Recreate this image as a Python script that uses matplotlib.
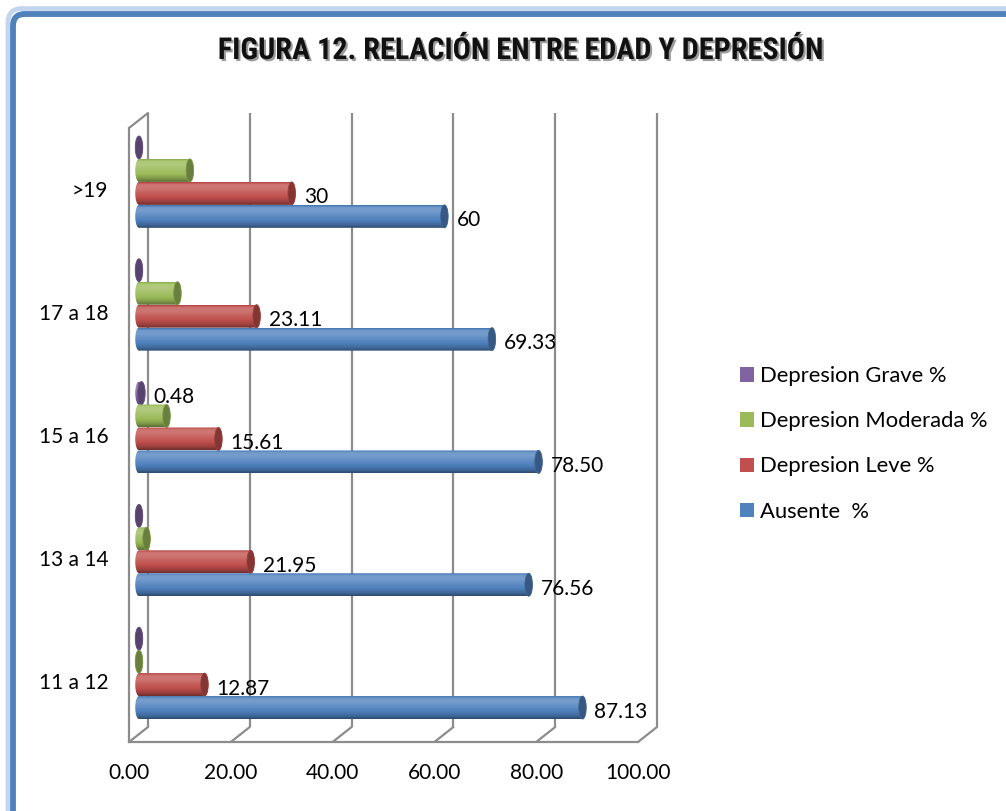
import numpy as np
import matplotlib
matplotlib.use("Agg")
import matplotlib.pyplot as plt
from matplotlib import transforms as mtransforms
from matplotlib import font_manager as fm
from matplotlib.patches import Ellipse, PathPatch, Patch, ConnectionPatch, FancyBboxPatch
from matplotlib.path import Path
from matplotlib.colors import to_rgb
import matplotlib.patheffects as pe

# ---- data -------------------------------------------------------------
categories = ["11 a 12", "13 a 14", "15 a 16", "17 a 18", ">19"]
ausente = [87.13, 76.56, 78.50, 69.33, 60]
leve = [12.87, 21.95, 15.61, 23.11, 30]
moderada = [0.0, 1.49, 5.41, 7.56, 10]
grave = [0.0, 0.0, 0.48, 0.0, 0.0]
series_names = ["Ausente  %", "Depresion Leve %", "Depresion Moderada %", "Depresion Grave %"]
series_colors = ["#4F81BD", "#C0504D", "#9BBB59", "#8064A2"]
series_labelled = [True, True, False, True]
x_ticks = [0, 20, 40, 60, 80, 100]
title = "FIGURA 12. RELACIÓN ENTRE EDAD Y DEPRESIÓN"

plt.rcParams["font.family"] = ["Lato", "DejaVu Sans"]
FS = 15
LEG_FS = 15.8

W, H = 1006, 811
fig = plt.figure(figsize=(W / 100, H / 100), dpi=100)
fig.patch.set_facecolor("white")

# front plane of the pseudo-3D box, in pixels
front_l, front_r, front_t, front_b = 129, 638, 128, 742
ax = fig.add_axes([front_l / W, (H - front_b) / H,
                   (front_r - front_l) / W, (front_b - front_t) / H])
ax.set_xlim(0, 100)
ax.set_ylim(-0.5, 4.5)
ax.set_facecolor("none")
for s in ax.spines.values():
    s.set_visible(False)

# depth planes
mid = mtransforms.offset_copy(ax.transData, fig=fig, x=10, y=7.5, units="dots")
back = mtransforms.offset_copy(ax.transData, fig=fig, x=19, y=15, units="dots")
label_tr = mtransforms.offset_copy(ax.transData, fig=fig, x=22, y=3.5, units="dots")

grid_c = "#8C8C8C"
grid_lw = 1.6
y0, y1 = -0.5, 4.5

# back wall grid
for xt in x_ticks:
    ax.plot([xt, xt], [y0, y1], transform=back, color=grid_c, lw=grid_lw,
            zorder=1, clip_on=False, solid_capstyle="butt")
    ax.add_artist(ConnectionPatch((xt, y0), (xt, y0), coordsA=back, coordsB=ax.transData,
                                  color=grid_c, lw=grid_lw, zorder=1, clip_on=False))
# left wall and floor front edges
ax.plot([0, 0], [y0, y1], color=grid_c, lw=grid_lw, zorder=1, clip_on=False)
ax.plot([0, 100], [y0, y0], color=grid_c, lw=grid_lw, zorder=1, clip_on=False)
ax.add_artist(ConnectionPatch((0, y1), (0, y1), coordsA=ax.transData, coordsB=back,
                              color=grid_c, lw=grid_lw, zorder=1, clip_on=False))


def shade(color, f):
    c = np.array(to_rgb(color))
    if f >= 0:
        return c + (1 - c) * f
    return c * (1 + f)


# vertical shading profile of a cylinder, top -> bottom
prof_t = [1.0, 0.9, 0.75, 0.55, 0.35, 0.15, 0.0]
prof_f = [-0.12, 0.2, 0.22, 0.1, 0.0, -0.18, -0.42]


def cylinder(v, yc, h, color, cap_w, z):
    a, b = cap_w / 2, h / 2
    th = np.linspace(np.pi / 2, 3 * np.pi / 2, 40)
    left = np.column_stack([a * np.cos(th), yc + b * np.sin(th)])
    th2 = np.linspace(-np.pi / 2, np.pi / 2, 40)
    right = np.column_stack([v + a * np.cos(th2), yc + b * np.sin(th2)])
    verts = np.vstack([left, right, left[:1]])
    clip = PathPatch(Path(verts, closed=True), transform=mid, facecolor="none",
                     edgecolor="none", zorder=z)
    ax.add_patch(clip)
    n = 80
    ts = np.linspace(1, 0, n)
    fs = np.interp(ts, prof_t[::-1], prof_f[::-1])
    grad = np.array([shade(color, f) for f in fs]).reshape(n, 1, 3)
    im = ax.imshow(grad, extent=(-a, v + a, yc - b, yc + b), origin="upper",
                   aspect="auto", interpolation="bilinear", transform=mid, zorder=z)
    im.set_clip_path(clip)
    ax.add_patch(Ellipse((v, yc), 2 * a, 2 * b, transform=mid,
                         facecolor=shade(color, -0.32), edgecolor=shade(color, -0.2),
                         lw=0.6, zorder=z + 0.1))


series_values = [ausente, leve, moderada, grave]
bar_h = 0.187
offsets = (np.arange(len(series_values)) - 1.5) * bar_h
px_per_unit = (front_r - front_l) / 100
cap_w = 7.5 / px_per_unit

for si in range(len(series_values) - 1, -1, -1):
    vals = series_values[si]
    for ci, v in enumerate(vals):
        yc = ci + offsets[si]
        cylinder(v, yc, bar_h, series_colors[si], cap_w, 3 + (3 - si) * 0.5)
        if series_labelled[si] and v > 0:
            txt = f"{v:.0f}" if float(v).is_integer() else f"{v:.2f}"
            ax.text(v, yc, txt, transform=label_tr, ha="left", va="center",
                    fontsize=FS, color="black", zorder=6)

ax.set_xticks(x_ticks, [f"{t:.2f}" for t in x_ticks])
ax.set_yticks(range(len(categories)), categories)
ax.tick_params(axis="both", length=0, labelsize=FS, colors="black")
ax.tick_params(axis="x", pad=15)
ax.tick_params(axis="y", pad=15)
ax.set_xlim(0, 100)
ax.set_ylim(-0.5, 4.5)

# legend
handles = [Patch(facecolor=series_colors[i], edgecolor="none") for i in range(3, -1, -1)]
labels = [series_names[i] for i in range(3, -1, -1)]
fig.legend(handles, labels, loc="upper left", bbox_to_anchor=(740 / W, 1 - 366 / H),
           frameon=False, fontsize=LEG_FS, handlelength=0.64, handleheight=0.64,
           handletextpad=0.28, labelspacing=1.15, borderpad=0, borderaxespad=0)

# title
names = {f.name for f in fm.fontManager.ttflist}
title_family = next((n for n in ["Roboto Condensed", "Open Sans Condensed", "Lato"] if n in names),
                    "DejaVu Sans")
t = fig.text(521 / W, 1 - 51 / H, title, ha="center", va="center", fontsize=24,
             family=[title_family, "DejaVu Sans"], fontweight="heavy", color="#111111",
             path_effects=[pe.SimplePatchShadow(offset=(1.5, -1.5), shadow_rgbFace=(0.45, 0.45, 0.45),
                                                alpha=0.7), pe.Normal()])
renderer = fig.canvas.get_renderer()
wpx = t.get_window_extent(renderer).width
t.set_fontsize(24 * 606 / wpx)

# frame
fig.add_artist(FancyBboxPatch((0.08, -0.5), 11.0, 8.11 - 0.085 + 0.5,
                              boxstyle="round,pad=0,rounding_size=0.14",
                              transform=fig.dpi_scale_trans, facecolor="none",
                              edgecolor="#C3D6EE", lw=3.4, zorder=0))
fig.add_artist(FancyBboxPatch((0.13, -0.5), 11.0, 8.11 - 0.14 + 0.5,
                              boxstyle="round,pad=0,rounding_size=0.12",
                              transform=fig.dpi_scale_trans, facecolor="none",
                              edgecolor="#4F81BD", lw=4.2, zorder=0))

fig.savefig("out.png", dpi=100, facecolor="white")
